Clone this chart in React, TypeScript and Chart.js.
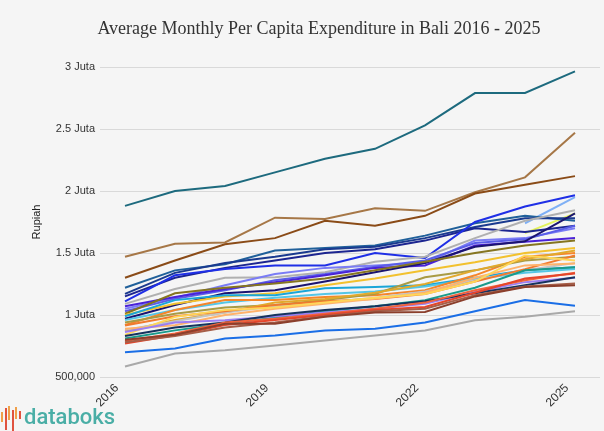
import React, { useEffect, useRef } from "react";
import { Chart, registerables } from "chart.js";

Chart.register(...registerables);

const years = [2016, 2017, 2018, 2019, 2020, 2021, 2022, 2023, 2024, 2025];
const xTickYears = [2016, 2019, 2022, 2025];
const yTickValues = [500000, 1000000, 1500000, 2000000, 2500000, 3000000];

const s01 = [1880000, 2000000, 2040000, 2150000, 2260000, 2340000, 2530000, 2790000, 2790000, 2965000];
const s02 = [1470000, 1575000, 1585000, 1785000, 1775000, 1860000, 1840000, 1990000, 2110000, 2470000];
const s03 = [1300000, 1440000, 1570000, 1620000, 1760000, 1720000, 1800000, 1980000, 2050000, 2120000];
const s04 = [1220000, 1360000, 1410000, 1520000, 1540000, 1560000, 1640000, 1740000, 1800000, 1760000];
const s05 = [1170000, 1340000, 1420000, 1470000, 1530000, 1550000, 1620000, 1710000, 1780000, 1780000];
const s06 = [1150000, 1300000, 1380000, 1440000, 1500000, 1530000, 1600000, 1700000, 1670000, 1720000];
const s07 = [1110000, 1320000, 1370000, 1400000, 1400000, 1500000, 1460000, 1750000, 1875000, 1965000];
const s08 = [1090000, 1210000, 1300000, 1305000, 1345000, 1430000, 1470000, 1620000, 1760000, 1845000];
const s09 = [1050000, 1140000, 1240000, 1330000, 1380000, 1400000, 1420000, 1600000, 1620000, 1700000];
const s10 = [1070000, 1145000, 1210000, 1265000, 1320000, 1380000, 1400000, 1560000, 1590000, 1620000];
const s11 = [970000, 1080000, 1175000, 1200000, 1270000, 1345000, 1420000, 1550000, 1594000, 1820000];
const s12 = [1010000, 1175000, 1220000, 1255000, 1295000, 1360000, 1430000, 1500000, 1560000, 1600000];
const s13 = [1000000, 1090000, 1150000, 1175000, 1240000, 1295000, 1360000, 1425000, 1500000, 1540000];
const s14 = [990000, 1120000, 1160000, 1160000, 1215000, 1225000, 1240000, 1300000, 1360000, 1385000];
const s15 = [null, null, null, null, null, null, null, null, 1740000, 1950000];
const s16 = [null, null, null, null, null, null, null, null, 1660000, 1820000];
const s17 = [920000, 1040000, 1120000, 1120000, 1145000, 1160000, 1200000, 1320000, 1470000, 1500000];
const s18 = [940000, 1010000, 1060000, 1080000, 1120000, 1170000, 1305000, 1360000, 1440000, 1470000];
const s19 = [890000, 917000, 1000000, 1050000, 1090000, 1130000, 1180000, 1300000, 1400000, 1415000];
const s20 = [840000, 985000, 1040000, 1060000, 1100000, 1140000, 1170000, 1270000, 1480000, 1440000];
const s21 = [810000, 876000, 930000, 980000, 1030000, 1070000, 1120000, 1220000, 1360000, 1385000];
const s22 = [863000, 940000, 957000, 990000, 1020000, 1050000, 1090000, 1185000, 1265000, 1300000];
const s23 = [770000, 836000, 920000, 960000, 1000000, 1040000, 1065000, 1180000, 1295000, 1335000];
const s24 = [790000, 850000, 940000, 970000, 1010000, 1050000, 1100000, 1200000, 1280000, 1340000];
const s25 = [830000, 900000, 940000, 1000000, 1040000, 1070000, 1110000, 1175000, 1240000, 1305000];
const s26 = [800000, 840000, 930000, 930000, 985000, 1020000, 1025000, 1150000, 1225000, 1240000];
const s27 = [780000, 830000, 900000, 940000, 990000, 1030000, 1050000, 1160000, 1230000, 1255000];
const s28 = [880000, 950000, 1020000, 1070000, 1100000, 1140000, 1190000, 1280000, 1360000, 1420000];
const s29 = [960000, 1040000, 1100000, 1140000, 1170000, 1190000, 1230000, 1290000, 1340000, 1370000];
const s30 = [870000, 960000, 1020000, 1100000, 1130000, 1180000, 1250000, 1360000, 1450000, 1520000];
const s31 = [700000, 730000, 810000, 835000, 875000, 890000, 940000, 1030000, 1120000, 1075000];
const s32 = [585000, 690000, 715000, 755000, 795000, 835000, 875000, 957000, 985000, 1030000];
const s33 = [1030000, 1130000, 1200000, 1280000, 1330000, 1390000, 1440000, 1580000, 1610000, 1720000];
const s34 = [915000, 990000, 1030000, 1080000, 1110000, 1130000, 1170000, 1270000, 1370000, 1480000];

const seriesValues = [
  s32, s31, s26, s27, s23, s24, s25, s22, s21, s20, s19, s34, s28, s30, s18, s17,
  s29, s14, s13, s12, s11, s10, s33, s09, s08, s07, s06, s05, s04, s16, s15, s03, s02, s01,
];
const seriesColors = [
  "#a9a9a9", "#1a6ee6", "#8b3f2c", "#a65e48", "#e5452b", "#f0633d", "#15335e", "#9c7ff2",
  "#1a9a8a", "#ffd659", "#ffb26b", "#f07a2e", "#c4c4c4", "#e2a92c", "#a99b45", "#f5862a",
  "#55c6e6", "#1aa6d8", "#f2c12e", "#857520", "#1a1470", "#4a22d8", "#5a5ee8", "#7a7cf5",
  "#b0b0b0", "#1f2fe6", "#1c2590", "#1a3a8f", "#20609a", "#e3f25c", "#7fb0f5", "#8a4b17",
  "#a67747", "#1d6a7e",
];

const W = 604;
const H = 431;

function fmtTick(v: number): string {
  if (v < 1000000) return v.toLocaleString("en-US");
  return `${v / 1000000} Juta`;
}

export default function App() {
  const ref = useRef<HTMLCanvasElement | null>(null);

  useEffect(() => {
    document.body.style.margin = "0";
    const canvas = ref.current;
    if (!canvas) return;
    const datasets = seriesValues.map((vals, i) => ({
      label: `Seri ${i + 1}`,
      data: years
        .map((yr, j) => ({ x: yr, y: vals[j] }))
        .filter((p) => p.y !== null),
      borderColor: seriesColors[i],
      backgroundColor: seriesColors[i],
      borderWidth: 2,
      pointRadius: 0,
      tension: 0,
      fill: false,
    }));
    const chart = new Chart(canvas, {
      type: "line",
      data: { datasets },
      options: {
        animation: false,
        responsive: false,
        maintainAspectRatio: false,
        layout: { padding: { top: 67, right: 4, left: 0, bottom: 0 } },
        plugins: {
          legend: { display: false },
          tooltip: { enabled: false },
          title: { display: false },
        },
        scales: {
          x: {
            type: "linear",
            min: 2015.5,
            max: 2025.5,
            grid: { display: false },
            border: { display: false },
            afterBuildTicks: (scale: any) => {
              scale.ticks = xTickYears.map((v) => ({ value: v }));
            },
            afterFit: (scale: any) => {
              scale.height = H - 377;
            },
            ticks: {
              autoSkip: false,
              minRotation: 45,
              maxRotation: 45,
              padding: -4,
              labelOffset: -8,
              color: "#333333",
              font: { family: "'Liberation Sans', Arial, sans-serif", size: 12 },
              callback: (v: any) => String(v),
            },
          },
          y: {
            type: "linear",
            min: 500000,
            max: 3000000,
            afterBuildTicks: (scale: any) => {
              scale.ticks = yTickValues.map((v) => ({ value: v }));
            },
            afterFit: (scale: any) => {
              scale.width = 100;
            },
            grid: { color: "#d9d9d9", lineWidth: 1, drawTicks: false },
            border: { display: false },
            title: {
              display: true,
              text: "Rupiah",
              color: "#222222",
              padding: { top: 30, bottom: 0 },
              font: { family: "'Liberation Sans', Arial, sans-serif", size: 11 },
            },
            ticks: {
              padding: 5,
              color: "#333333",
              font: { family: "'Liberation Sans', Arial, sans-serif", size: 11 },
              callback: (v: any) => fmtTick(Number(v)),
            },
          },
        },
      },
    });
    return () => chart.destroy();
  }, []);

  const bars = [
    { h: 10, c: "#f0a04a", t: 8 },
    { h: 22, c: "#e0533f", t: 4 },
    { h: 14, c: "#f0a04a", t: 2 },
    { h: 24, c: "#e0533f", t: 6 },
    { h: 12, c: "#f0a04a", t: 3 },
    { h: 8, c: "#e0533f", t: 7 },
  ];

  return (
    <div
      style={{
        position: "fixed",
        left: 0,
        top: 0,
        width: W,
        height: H,
        background: "#f5f5f5",
        overflow: "hidden",
      }}
    >
      <canvas ref={ref} width={W} height={H} style={{ position: "absolute", left: 0, top: 0, width: W, height: H }} />
      <div
        style={{
          position: "absolute",
          left: 0,
          top: 18,
          width: 638,
          textAlign: "center",
          fontFamily: "'Liberation Serif', 'DejaVu Serif', serif",
          fontSize: 18,
          color: "#333333",
          whiteSpace: "nowrap",
        }}
      >
        Average Monthly Per Capita Expenditure in Bali 2016 - 2025
      </div>
      <div style={{ position: "absolute", left: 0, top: 404, height: 27, width: 24 }}>
        {bars.map((b, i) => (
          <span
            key={i}
            style={{
              position: "absolute",
              left: 1 + i * 3.5,
              top: b.t,
              width: 2,
              height: b.h,
              background: b.c,
            }}
          />
        ))}
      </div>
      <div
        style={{
          position: "absolute",
          left: 24,
          top: 404,
          fontFamily: "Roboto, 'Open Sans', sans-serif",
          fontSize: 22,
          fontWeight: 500,
          color: "#4aaea6",
          letterSpacing: 0,
        }}
      >
        databoks
      </div>
    </div>
  );
}
